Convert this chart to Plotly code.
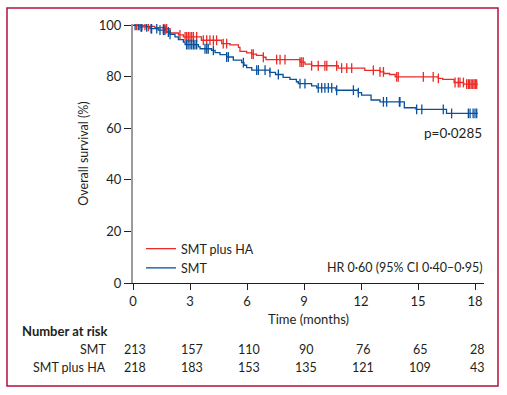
import numpy as np
import plotly.graph_objects as go

# ---------------- data ----------------
x_ticks = [0, 3, 6, 9, 12, 15, 18]
y_ticks = [0, 20, 40, 60, 80, 100]

ha_times = [0, 0.7, 1.15, 1.6, 1.95, 2.39, 2.65, 3.6, 4.67, 5.1, 5.55, 5.63, 5.98, 6.25, 6.5,
            6.86, 7.0, 8.79, 9.05, 9.4, 10.8, 12.2, 13.0, 13.2, 13.5, 13.8, 16.07, 16.3, 16.9, 17.4]
ha_surv = [100, 99.6, 99.1, 98.7, 97.0, 96.3, 95.5, 94.2, 92.9, 92.4, 91.4, 89.9, 89.3, 88.8, 88.3,
           87.6, 86.7, 85.7, 84.9, 84.3, 83.4, 82.5, 81.9, 81.3, 80.9, 80.0, 79.4, 79.0, 77.8, 77.2]
ha_end = 18.15
ha_censor = [0.19, 0.33, 0.46, 0.63, 0.81, 1.6, 1.68, 1.77, 2.47, 2.74, 2.82, 2.91, 3.0, 3.09, 3.18,
             3.35, 3.7, 3.88, 4.05, 4.23, 4.4, 4.75, 4.93, 6.25, 6.33, 6.86, 7.56, 7.74, 8.0, 8.79,
             8.88, 8.96, 9.4, 9.75, 10.1, 10.2, 10.72, 10.98, 11.25, 11.51, 12.65, 13.0, 13.18, 13.88,
             13.96, 15.28, 15.8, 16.07, 16.95, 17.12, 17.21, 17.39, 17.56, 17.65, 17.72, 17.8, 17.88,
             17.95, 18.02, 18.09]

smt_times = [0, 0.37, 0.89, 1.33, 1.77, 1.95, 2.21, 2.39, 2.65, 2.74, 3.44, 3.53, 4.14, 4.32, 4.58,
             4.93, 5.28, 5.72, 5.84, 5.98, 6.25, 7.2, 7.5, 7.9, 8.26, 8.6, 8.7, 9.4, 9.67, 10.68,
             11.86, 12.03, 12.53, 13.0, 14.28, 14.9, 16.5]
smt_surv = [100, 99.4, 98.7, 98.1, 97.4, 96.5, 95.5, 94.4, 93.5, 92.5, 91.6, 90.9, 90.3, 89.4, 88.6,
            87.7, 86.5, 85.5, 84.5, 83.6, 82.6, 81.7, 80.9, 79.8, 79.0, 78.1, 77.4, 76.5, 75.7, 74.8,
            73.9, 72.9, 71.0, 70.3, 68.0, 67.4, 65.8]
smt_end = 18.15
smt_censor = [0.11, 0.28, 0.42, 0.46, 0.72, 0.95, 0.98, 1.25, 1.42, 1.6, 1.68, 1.86, 1.95, 2.82, 2.9,
              3.0, 3.09, 3.18, 3.26, 3.35, 3.79, 3.88, 3.96, 4.23, 4.93, 5.02, 5.81, 6.51, 6.6, 6.95,
              7.21, 7.65, 8.79, 9.05, 9.75, 9.93, 10.1, 10.28, 10.46, 10.72, 11.6, 11.86, 13.18,
              13.35, 14.02, 14.05, 14.93, 15.2, 16.33, 16.77, 17.65, 17.74, 17.9, 18.0, 18.09]

risk_smt = [213, 157, 110, 90, 76, 65, 28]
risk_ha = [218, 183, 153, 135, 121, 109, 43]

# ---------------- styles ----------------
RED = "#ec2a26"
BLUE = "#0a519c"
TXT = "#231f20"
FONT = "Lato"
FS = 12.5


def surv_at(times, surv, t):
    idx = np.searchsorted(np.array(times), np.array(t), side="right") - 1
    return np.array(surv)[idx]


fig = go.Figure()

fig.add_trace(go.Scatter(x=ha_times + [ha_end], y=ha_surv + [ha_surv[-1]], mode="lines",
                         line=dict(color=RED, width=1.3, shape="hv"), name="SMT plus HA"))
fig.add_trace(go.Scatter(x=smt_times + [smt_end], y=smt_surv + [smt_surv[-1]], mode="lines",
                         line=dict(color=BLUE, width=1.3, shape="hv"), name="SMT"))
fig.add_trace(go.Scatter(x=ha_censor, y=surv_at(ha_times, ha_surv, ha_censor), mode="markers",
                         marker=dict(symbol="line-ns", size=7, line=dict(color=RED, width=1.3)),
                         showlegend=False, hoverinfo="skip"))
fig.add_trace(go.Scatter(x=smt_censor, y=surv_at(smt_times, smt_surv, smt_censor), mode="markers",
                         marker=dict(symbol="line-ns", size=7, line=dict(color=BLUE, width=1.3)),
                         showlegend=False, hoverinfo="skip"))

W, H = 507, 395
L, R, T, B = 133, 23, 24, 112
pw, ph = W - L - R, H - T - B


def px2paper_x(px):
    return (px - L) / pw


def py2paper_y(py):
    return (H - B - py) / ph


def ann(text, x, y, xanchor, xref="paper", size=FS, xshift=0):
    return dict(text=text, x=x, xref=xref, y=py2paper_y(y), yref="paper", xanchor=xanchor,
                yanchor="middle", showarrow=False, xshift=xshift,
                font=dict(size=size, color=TXT, family=FONT))


annotations = [
    ann("p=0·0285", 1.0, 133, "right", size=13.5),
    ann("HR 0·60 (95% CI 0·40–0·95)", 1.0, 267, "right"),
    ann("<b>Number at risk</b>", px2paper_x(20), 331, "left", size=13),
    ann("SMT", px2paper_x(108), 349, "right"),
    ann("SMT plus HA", px2paper_x(108), 367, "right"),
]
for t, a, b in zip(x_ticks, risk_smt, risk_ha):
    annotations.append(ann(str(a), t, 349, "center", xref="x", xshift=2))
    annotations.append(ann(str(b), t, 367, "center", xref="x", xshift=2))

fig.update_layout(
    template="none",
    width=W, height=H,
    margin=dict(l=L, r=R, t=T, b=B, pad=0),
    paper_bgcolor="white", plot_bgcolor="white",
    font=dict(family=FONT, size=FS, color=TXT),
    showlegend=True,
    legend=dict(x=px2paper_x(141), y=py2paper_y(234), xanchor="left", yanchor="top",
                bgcolor="rgba(0,0,0,0)", borderwidth=0, font=dict(size=FS, family=FONT, color=TXT),
                tracegroupgap=0, itemwidth=30),
    xaxis=dict(range=[0, (W - R - L) / 19.0], tickvals=x_ticks, ticks="outside", ticklen=6,
               tickcolor=TXT, tickwidth=1, showline=True, linecolor=TXT, linewidth=1,
               showgrid=False, zeroline=False, tickfont=dict(size=13), automargin=False,
               title=dict(text="Time (months)", standoff=7, font=dict(size=13))),
    yaxis=dict(range=[0, 100.5], tickvals=y_ticks, ticks="outside", ticklen=7, tickcolor=TXT,
               tickwidth=1, showline=True, linecolor="#9b9b9b", linewidth=2, showgrid=False,
               zeroline=False, tickfont=dict(size=13), automargin=False,
               title=dict(text="Overall survival (%)", standoff=7, font=dict(size=12.5))),
    annotations=annotations,
    shapes=[dict(type="rect", xref="paper", yref="paper",
                 x0=px2paper_x(7), x1=px2paper_x(498), y0=py2paper_y(386), y1=py2paper_y(8),
                 line=dict(color="#b4123e", width=1.5), fillcolor="rgba(0,0,0,0)", layer="below")],
)

fig.write_html("out.html", config={"displayModeBar": False},
               post_script="document.body.style.margin='0';document.body.style.overflow='hidden';")
